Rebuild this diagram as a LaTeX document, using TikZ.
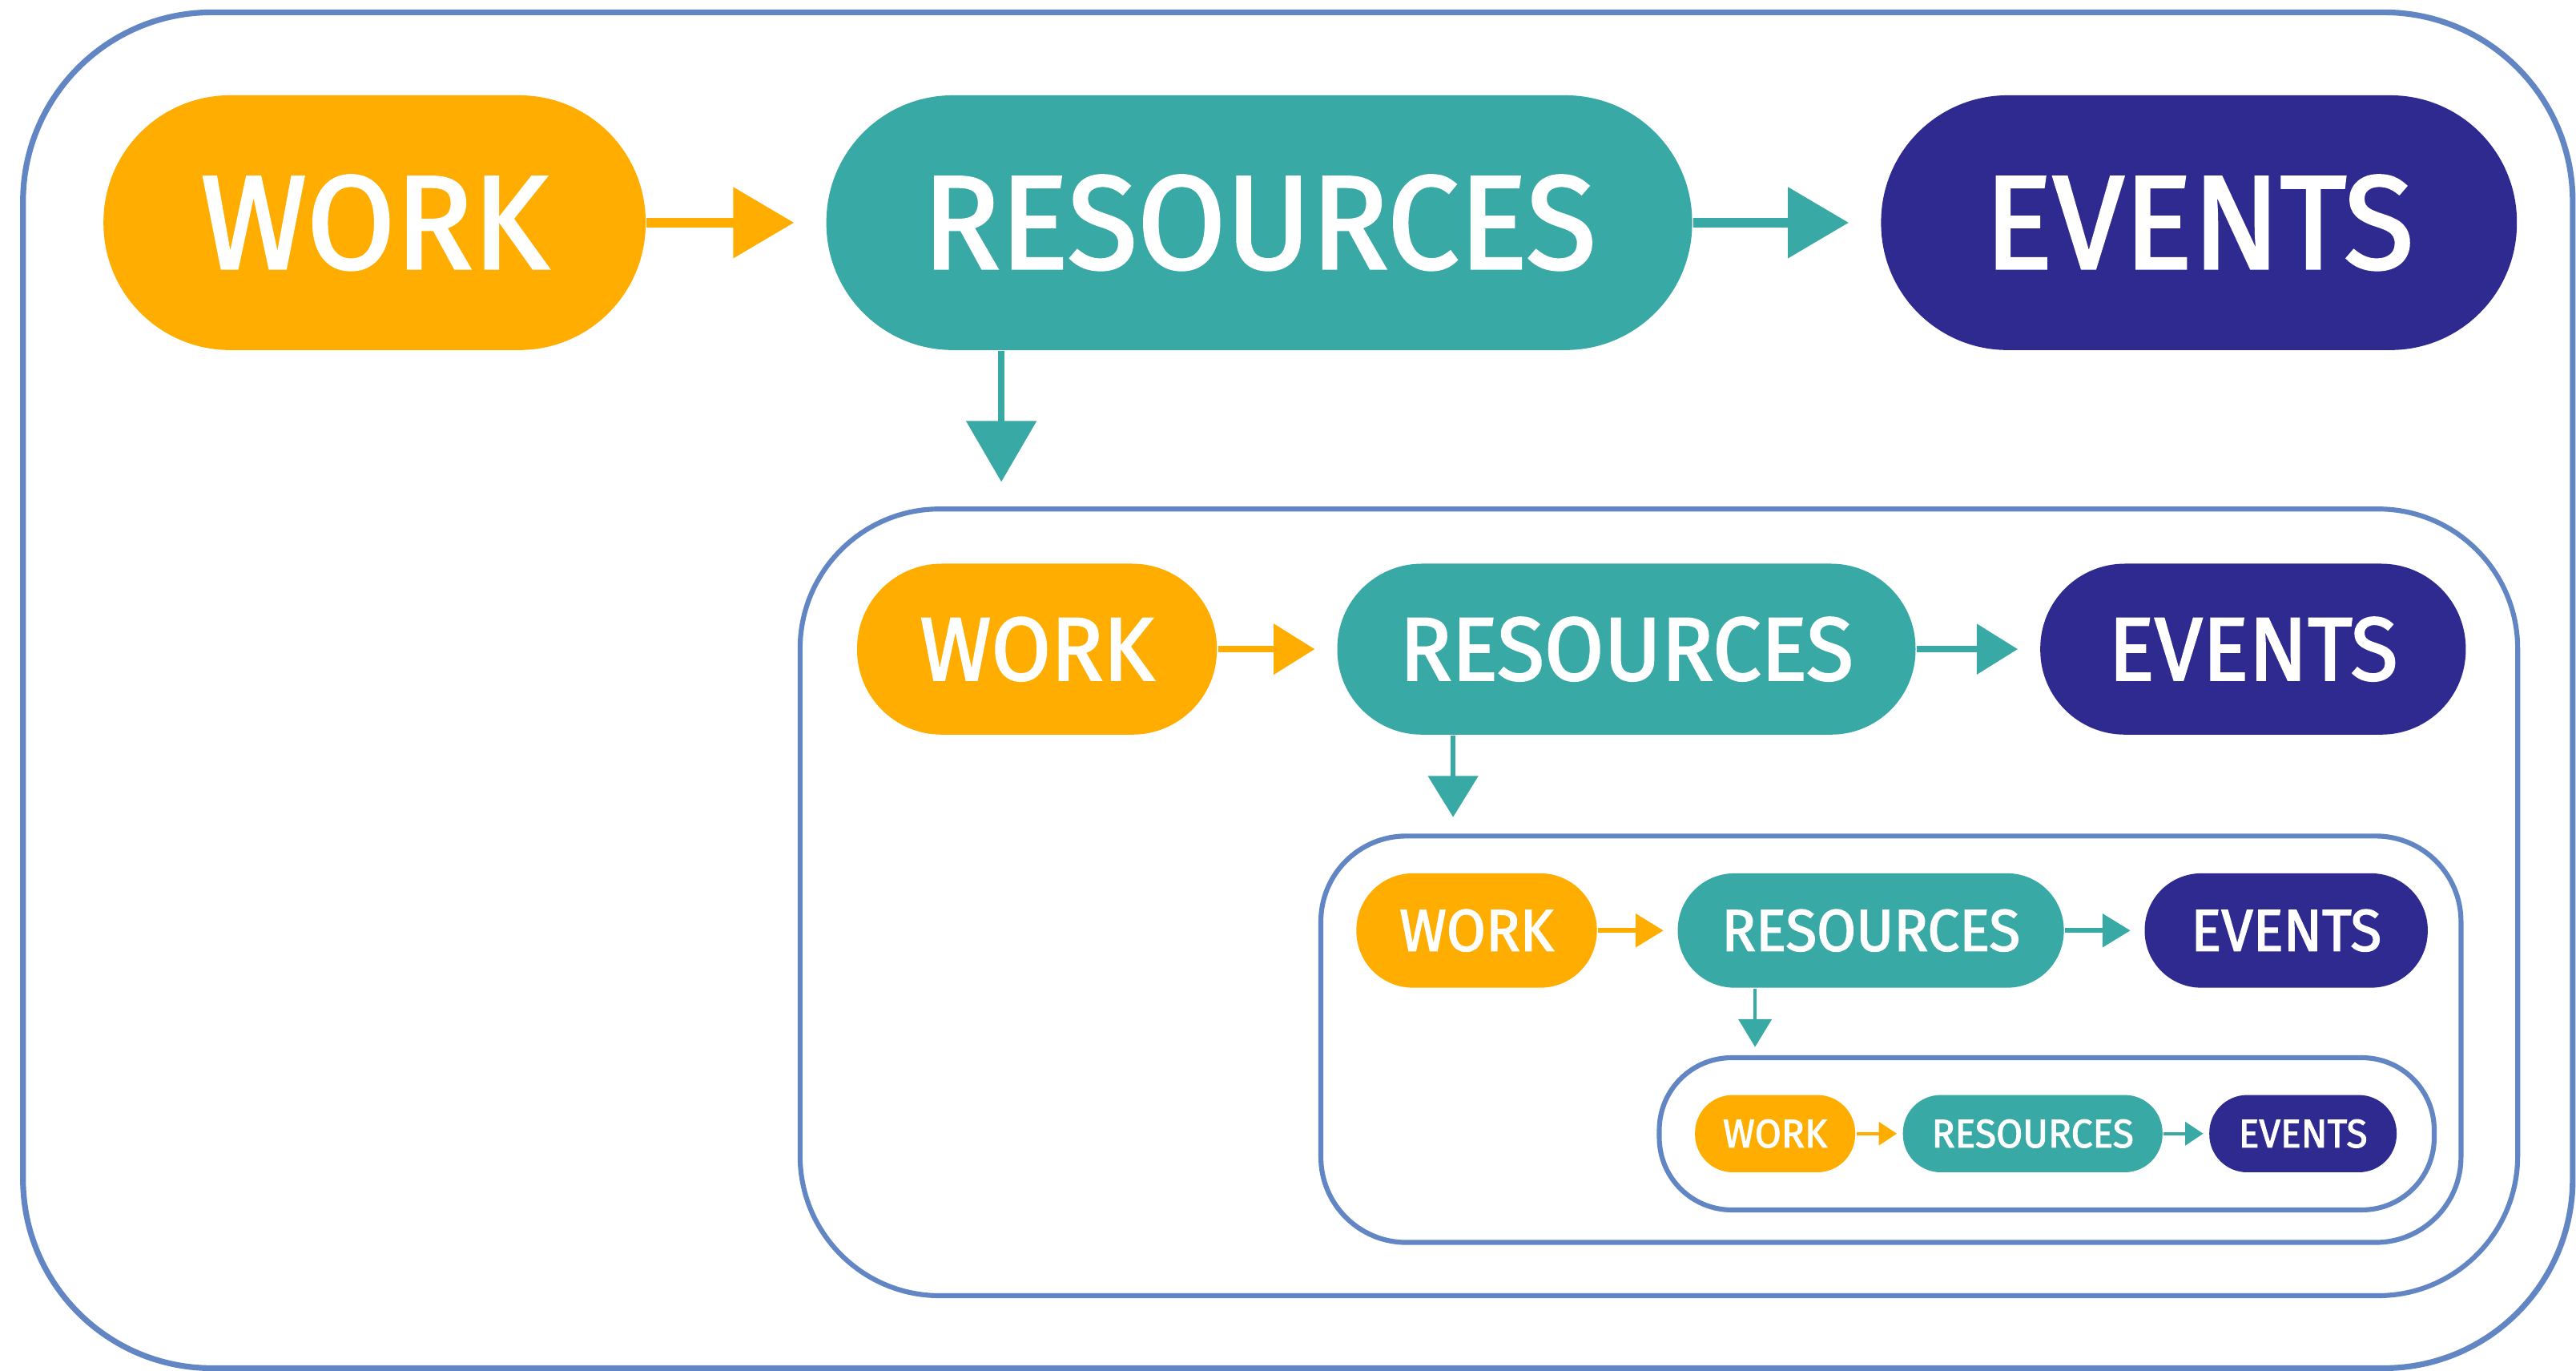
\documentclass[tikz,border=0pt]{standalone}
\usepackage{fontspec}
\usetikzlibrary{arrows.meta}
\newfontfamily\boxfont{Fira Sans}[FakeBold=2, FakeStretch=0.965]
\definecolor{myorange}{HTML}{FFAD00}
\definecolor{myteal}{HTML}{39A9A5}
\definecolor{mynavy}{HTML}{2E2A8F}
\definecolor{myframe}{HTML}{6286C4}

\begin{document}
\begin{tikzpicture}[x=0.1mm, y=-0.1mm,
    frame/.style={draw=myframe, line width=0.3mm, inner sep=0pt},
    pill/.style={inner sep=0pt, text=white},
    lv0/.style={pill, minimum height=15.5mm, rounded corners=7.7mm, font=\boxfont\fontsize{23}{23}\selectfont},
    lv1/.style={pill, minimum height=10.4mm, rounded corners=5.15mm, font=\boxfont\fontsize{15.5}{15.5}\selectfont},
    lv2/.style={pill, minimum height=6.96mm, rounded corners=3.45mm, font=\boxfont\fontsize{10.2}{10.2}\selectfont},
    lv3/.style={pill, minimum height=4.7mm, rounded corners=2.3mm, font=\boxfont\fontsize{6.9}{6.9}\selectfont},
    ar0/.style={line width=0.55mm, -{Triangle[length=3.7mm,width=4.2mm]}, shorten >=1.9mm},
    ar1/.style={line width=0.4mm, -{Triangle[length=2.5mm,width=3mm]}, shorten >=1.3mm},
    ar2/.style={line width=0.28mm, -{Triangle[length=1.7mm,width=2mm]}, shorten >=0.8mm},
    ar3/.style={line width=0.2mm, -{Triangle[length=1.1mm,width=1.4mm]}, shorten >=0.3mm}]
    \useasboundingbox (0,0) rectangle (1568,834);
    %% the frames, one inside the other
    \node[frame, line width=0.35mm, minimum width=155.2mm, minimum height=82.5mm, rounded corners=11.5mm] (box0) at (790,420) {};
    \node[frame, minimum width=104.55mm, minimum height=47.87mm, rounded corners=8.5mm] (box1) at (1009.75,549.05) {};
    \node[frame, minimum width=69.4mm, minimum height=24.73mm, rounded corners=5.2mm] (box2) at (1151,632.35) {};
    \node[frame, minimum width=47.17mm, minimum height=9.26mm, rounded corners=4.4mm] (box3) at (1245.85,689.9) {};
    %% first row
    \node[lv0, fill=myorange, minimum width=33mm] (work0) at (228,135.5) {WORK};
    \node[lv0, fill=myteal, minimum width=52.7mm] (res0) at (766.5,135.5) {RESOURCES};
    \node[lv0, fill=mynavy, minimum width=38.7mm] (evt0) at (1338.5,135.5) {EVENTS};
    \draw[ar0, myorange] (work0) -- (res0);
    \draw[ar0, myteal] (res0) -- (evt0);
    \coordinate (d0) at (609.5,0);
    \draw[ar0, myteal, line width=0.4mm, shorten >=1.5mm] (res0.south -| d0) -- (box1.north -| d0);
    %% second row
    \node[lv1, fill=myorange, minimum width=21.9mm] (work1) at (631.2,395) {WORK};
    \node[lv1, fill=myteal, minimum width=35.2mm] (res1) at (990,395) {RESOURCES};
    \node[lv1, fill=mynavy, minimum width=25.9mm] (evt1) at (1371.4,395) {EVENTS};
    \draw[ar1, myorange] (work1) -- (res1);
    \draw[ar1, myteal] (res1) -- (evt1);
    \coordinate (d1) at (884.5,0);
    \draw[ar1, myteal, line width=0.3mm, shorten >=1mm] (res1.south -| d1) -- (box2.north -| d1);
    %% third row
    \node[lv2, fill=myorange, minimum width=14.64mm] (work2) at (898.8,566.2) {WORK};
    \node[lv2, fill=myteal, minimum width=23.5mm] (res2) at (1138.75,566.2) {RESOURCES};
    \node[lv2, fill=mynavy, minimum width=17.23mm] (evt2) at (1391.6,566.2) {EVENTS};
    \draw[ar2, myorange] (work2) -- (res2);
    \draw[ar2, myteal] (res2) -- (evt2);
    \coordinate (d2) at (1068.3,0);
    \draw[ar2, myteal, line width=0.22mm, shorten >=0.5mm] (res2.south -| d2) -- (box3.north -| d2);
    %% last row
    \node[lv3, fill=myorange, minimum width=9.75mm] (work3) at (1080.5,689.8) {WORK};
    \node[lv3, fill=myteal, minimum width=15.8mm] (res3) at (1237.3,689.8) {RESOURCES};
    \node[lv3, fill=mynavy, minimum width=11.4mm] (evt3) at (1401.8,689.8) {EVENTS};
    \draw[ar3, myorange] (work3) -- (res3);
    \draw[ar3, myteal] (res3) -- (evt3);
\end{tikzpicture}
\end{document}
